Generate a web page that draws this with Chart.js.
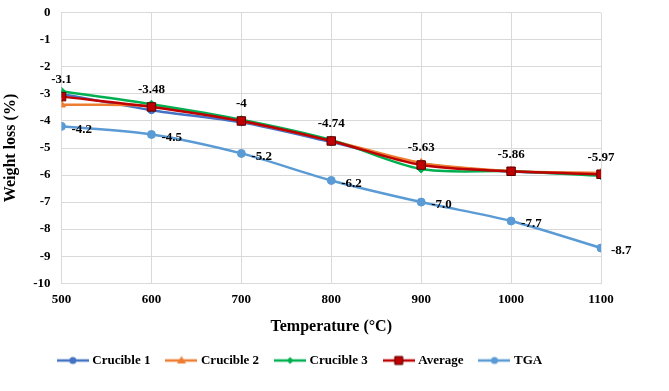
<!DOCTYPE html>
<html lang="en">
<head>
    <meta charset="UTF-8">
    <title>Weight loss vs temperature</title>
    <script src="https://cdn.jsdelivr.net/npm/chart.js"></script>
    <style>
        html, body { margin: 0; padding: 0; background: #fff; overflow: hidden; }
        #wrap { width: 669px; height: 397px; margin-top: -6px; }
    </style>
</head>
<body>
<div id="wrap"><canvas id="lossChart"></canvas></div>
<script>
// data
const temps = [500, 600, 700, 800, 900, 1000, 1100];
const crucible1 = [-3.0, -3.6, -4.05, -4.78, -5.57, -5.87, -5.96];
const crucible2 = [-3.4, -3.45, -4.0, -4.72, -5.55, -5.85, -5.92];
const crucible3 = [-2.9, -3.38, -3.95, -4.7, -5.78, -5.86, -6.03];
const average = [-3.1, -3.48, -4, -4.74, -5.63, -5.86, -5.97];
const tga = [-4.2, -4.5, -5.2, -6.2, -7.0, -7.7, -8.7];
const avgLabels = ['-3.1', '-3.48', '-4', '-4.74', '-5.63', '-5.86', '-5.97'];
const tgaLabels = ['-4.2', '-4.5', '-5.2', '-6.2', '-7.0', '-7.7', '-8.7'];

const FONT = '"Liberation Serif", "Times New Roman", serif';

function pts(arr) {
    return temps.map((t, i) => ({ x: t, y: arr[i] }));
}

// little line+marker picture used as legend symbol
function legendIcon(color, shape, border) {
    const c = document.createElement('canvas');
    c.width = 32; c.height = 14;
    const g = c.getContext('2d');
    g.strokeStyle = color; g.lineWidth = 2.5;
    g.beginPath(); g.moveTo(0, 7); g.lineTo(32, 7); g.stroke();
    g.fillStyle = color;
    g.beginPath();
    if (shape === 'circle') g.arc(16, 7, 3.5, 0, Math.PI * 2);
    if (shape === 'triangle') { g.moveTo(16, 2.5); g.lineTo(20.5, 10); g.lineTo(11.5, 10); g.closePath(); }
    if (shape === 'diamond') { g.moveTo(16, 3.5); g.lineTo(19.5, 7); g.lineTo(16, 10.5); g.lineTo(12.5, 7); g.closePath(); }
    if (shape === 'square') g.rect(12, 3, 8, 8);
    g.fill();
    if (border) { g.strokeStyle = border; g.lineWidth = 1; g.stroke(); }
    return c;
}

const icons = [
    legendIcon('#4472C4', 'circle'),
    legendIcon('#ED7D31', 'triangle'),
    legendIcon('#00B050', 'diamond'),
    legendIcon('#C00000', 'square', '#5a0000'),
    legendIcon('#5B9BD5', 'circle')
];

const dataLabels = {
    id: 'dataLabels',
    afterDatasetsDraw(chart) {
        const ctx = chart.ctx;
        ctx.save();
        ctx.font = 'bold 13px ' + FONT;
        ctx.fillStyle = '#000';
        ctx.textBaseline = 'middle';
        chart.getDatasetMeta(3).data.forEach((p, i) => {
            ctx.textAlign = 'center';
            ctx.fillText(avgLabels[i], p.x, p.y - 17);
        });
        chart.getDatasetMeta(4).data.forEach((p, i) => {
            ctx.textAlign = 'left';
            ctx.fillText(tgaLabels[i], p.x + 10, p.y + 3);
        });
        ctx.restore();
    }
};

function ds(label, arr, color, style, radius, order, border) {
    return {
        label: label,
        data: pts(arr),
        borderColor: color,
        backgroundColor: color,
        borderWidth: 2.5,
        pointStyle: style,
        pointRadius: radius,
        pointBackgroundColor: color,
        pointBorderColor: border || color,
        pointBorderWidth: 1,
        tension: 0.3,
        order: order
    };
}

new Chart(document.getElementById('lossChart'), {
    type: 'line',
    data: {
        datasets: [
            ds('Crucible 1', crucible1, '#4472C4', 'circle', 3.5, 3),
            ds('Crucible 2', crucible2, '#ED7D31', 'triangle', 4.5, 2),
            ds('Crucible 3', crucible3, '#00B050', 'rectRot', 4, 1),
            ds('Average', average, '#C00000', 'rect', 6, 0, '#5a0000'),
            ds('TGA', tga, '#5B9BD5', 'circle', 4, 4)
        ]
    },
    options: {
        responsive: true,
        maintainAspectRatio: false,
        animation: false,
        layout: { padding: { left: 1, right: 68, top: 0, bottom: 14 } },
        scales: {
            x: {
                type: 'linear',
                min: 500, max: 1100,
                ticks: {
                    stepSize: 100, color: '#000', padding: 9,
                    font: { family: FONT, size: 13, weight: 'bold' },
                    callback: v => String(v)
                },
                grid: { color: '#d9d9d9', drawTicks: false },
                border: { color: '#d9d9d9' },
                title: { display: true, text: 'Temperature (°C)', color: '#000', font: { family: FONT, size: 16, weight: 'bold' }, padding: { top: 0, bottom: 0 } }
            },
            y: {
                min: -10, max: 0,
                ticks: { stepSize: 1, color: '#000', font: { family: FONT, size: 13, weight: 'bold' }, padding: 11 },
                grid: { color: '#d9d9d9', drawTicks: false },
                border: { color: '#d9d9d9' },
                title: { display: true, text: 'Weight loss (%)', color: '#000', font: { family: FONT, size: 16, weight: 'bold' }, padding: { top: 0, bottom: 2 } }
            }
        },
        plugins: {
            legend: {
                position: 'bottom',
                labels: {
                    usePointStyle: true,
                    pointStyleWidth: 26,
                    boxHeight: 13,
                    padding: 18,
                    color: '#000',
                    font: { family: FONT, size: 13, weight: 'bold' },
                    generateLabels(chart) {
                        const items = Chart.defaults.plugins.legend.labels.generateLabels(chart);
                        items.forEach(it => { it.pointStyle = icons[it.datasetIndex]; });
                        return items.sort((a, b) => a.datasetIndex - b.datasetIndex);
                    }
                }
            },
            tooltip: { enabled: false }
        }
    },
    plugins: [dataLabels]
});
</script>
</body>
</html>
